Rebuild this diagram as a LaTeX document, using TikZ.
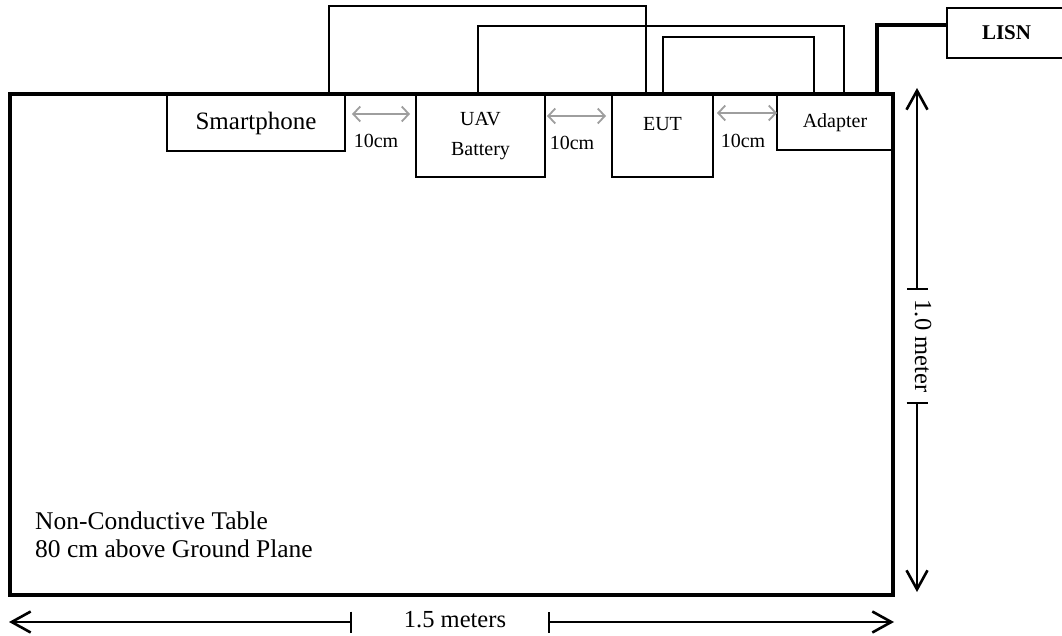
\documentclass[tikz,border=0pt]{standalone}
\usepackage{fontspec}
\setmainfont{Liberation Serif}
\usetikzlibrary{arrows.meta,calc,positioning}
\definecolor{arrowgray}{rgb}{0.62,0.62,0.62}
\begin{document}
\begin{tikzpicture}[x=1pt,y=-1pt,
        box/.style={draw, line width=1.5pt, anchor=north west, inner sep=0pt, outer sep=0pt, align=center},
        lbl/.style={font=\fontsize{20}{30}\selectfont, inner sep=0pt},
        big/.style={font=\fontsize{24.5}{28}\selectfont, inner sep=0pt},
        cable/.style={line width=1.4pt},
        gaparrow/.style={draw=arrowgray, line width=1.8pt, {Straight Barb[length=7pt,width=15pt]}-{Straight Barb[length=7pt,width=15pt]}},
        dim/.style={line width=1.6pt, {Bar[width=21pt]}-{Straight Barb[length=19pt,width=21pt,line width=2.6pt]}}]
    \useasboundingbox (0,0) rectangle (1062,636);
    \draw[line width=4pt] (9.5,94) rectangle (893,595);
    \node[box, minimum width=178pt, minimum height=56pt, font=\fontsize{25}{30}\selectfont] (sp) at (167,95) {Smartphone};
    \node[box, lbl, minimum width=129pt, minimum height=82pt] (uav) at (416,95) {UAV\\Battery};
    \node[box, minimum width=101pt, minimum height=82pt] (eut) at (612,95) {};
    \node[lbl, below=22pt of eut.north] (eutlbl) {EUT};
    \node[box, lbl, minimum width=116pt, minimum height=55pt] (ad) at (777,95) {Adapter};
    \node[box, minimum width=119pt, minimum height=50pt, font=\fontsize{21}{25}\selectfont\bfseries] (lisn) at (947,8) {LISN};
    \draw[cable] ([xshift=-16pt]sp.north east) -- ++(0,-89) -| ([xshift=34pt]eut.north west);
    \draw[cable] ([xshift=62pt]uav.north west) -- ++(0,-69) -| ([xshift=67pt]ad.north west);
    \draw[cable] ([xshift=51pt]eut.north west) -- ++(0,-58) -| ([xshift=37pt]ad.north west);
    \draw[cable, line width=3.6pt] ([xshift=100pt]ad.north west) |- ([yshift=8pt]lisn.west);
    \draw[gaparrow, shorten <=7pt, shorten >=6pt] (sp.east |- 0,114) -- (uav.west |- 0,114);
    \draw[gaparrow, shorten <=2pt, shorten >=6pt] (uav.east |- 0,116) -- (eut.west |- 0,116);
    \draw[gaparrow, shorten <=4pt, shorten >=0pt] (eut.east |- 0,113) -- (ad.west |- 0,113);
    \node[lbl] (gap1) at (376,141) {10cm};
    \node[lbl] (gap2) at (572,143) {10cm};
    \node[lbl] (gap3) at (743,141) {10cm};
    \node[font=\fontsize{25.5}{28}\selectfont, align=left, anchor=west, inner sep=0pt] (tbl) at (35,535) {Non-Conductive Table\\80 cm above Ground Plane};
    \coordinate (dimT) at (917,88);
    \coordinate (dimB) at (917,592);
    \coordinate (dimL) at (9,622);
    \coordinate (dimR) at (894,622);
    \node[big, rotate=-90] (vlbl) at (923,346) {1.0 meter};
    \draw[dim] (917,290) -- (dimT);
    \draw[dim] (917,402) -- (dimB);
    \node[big] (hlbl) at (455,620) {1.5 meters};
    \draw[dim] (352,622) -- (dimL);
    \draw[dim] (548,622) -- (dimR);
\end{tikzpicture}
\end{document}
